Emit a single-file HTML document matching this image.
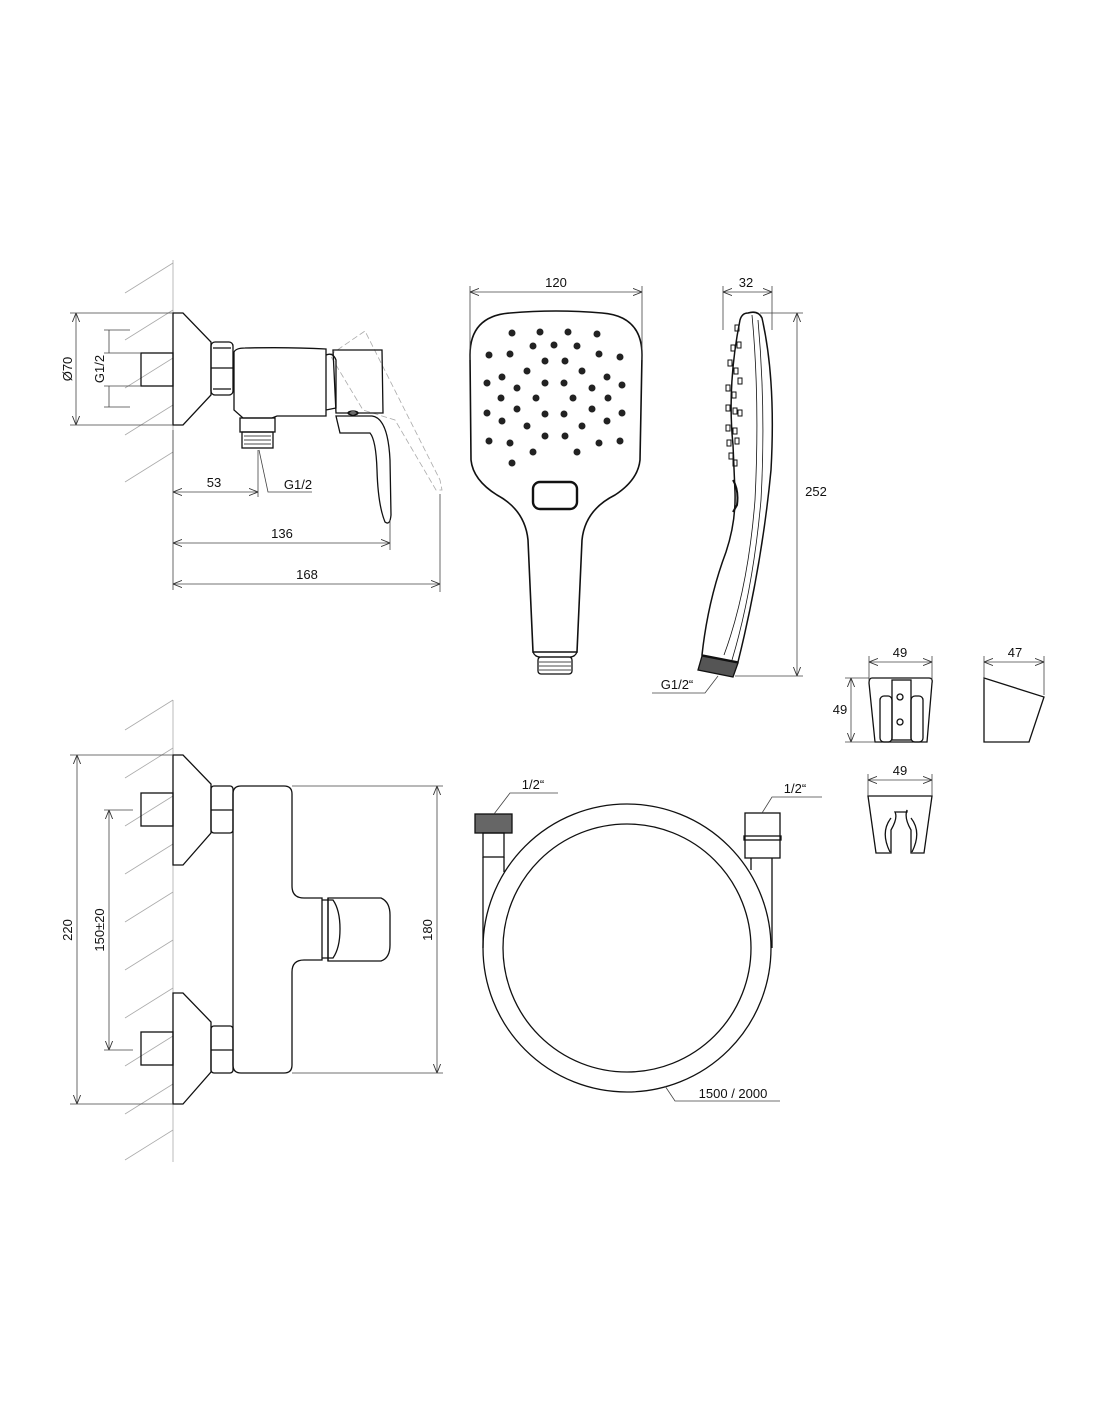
<!DOCTYPE html>
<html><head><meta charset="utf-8"><style>
html,body{margin:0;padding:0;background:#fff}
svg{display:block}
text{font-family:"Liberation Sans",sans-serif;font-size:13px;fill:#111}
</style></head><body>
<svg width="1100" height="1422" viewBox="0 0 1100 1422" xmlns="http://www.w3.org/2000/svg">
<defs>
<marker id="a" viewBox="0 0 10 10" refX="10" refY="5" markerWidth="9" markerHeight="9" orient="auto-start-reverse" markerUnits="userSpaceOnUse"><path d="M0,1 L10,5 L0,9" fill="none" stroke="#333" stroke-width="1"/></marker>
</defs>
<g fill="none" stroke="#aaa" stroke-width="0.8">
<!-- wall + hatch top -->
<line x1="173" y1="260" x2="173" y2="460"/>
<path d="M125,293 L173,263 M125,340 L173,310 M125,388 L173,358 M125,435 L173,405 M125,482 L173,452"/>
<line x1="173" y1="700" x2="173" y2="1162"/>
<path d="M125,730 L173,700 M125,778 L173,748 M125,826 L173,796 M125,874 L173,844 M125,922 L173,892 M125,970 L173,940 M125,1018 L173,988 M125,1066 L173,1036 M125,1114 L173,1084 M125,1160 L173,1130"/>
<!-- ghost handle -->
<path d="M330,355 L365,331 L440,480 L442,490 L436,490 L395,420 L363,410 Z" stroke-dasharray="6,3"/>
</g>
<g fill="none" stroke="#111" stroke-width="1.3">
<!-- top faucet -->
<path d="M173,313 H183 L211,342 V395 L183,425 H173 Z"/>
<rect x="141" y="353" width="32" height="33"/>
<rect x="211" y="342" width="22" height="53" rx="4"/>
<line x1="211" y1="368" x2="233" y2="368"/><line x1="213" y1="348" x2="231" y2="348"/><line x1="213" y1="389" x2="231" y2="389"/>
<path d="M234,352 Q236,348 245,348 Q290,347 326,349 V416 H277 L272,418 H243 L234,410 Z"/>
<path d="M326,355 Q333,352 336,360 V408 L326,410"/>
<rect x="240" y="418" width="35" height="14"/>
<rect x="242" y="432" width="31" height="16"/>
<path d="M244,436 H271 M244,440 H271 M244,444 H271" stroke-width="0.7"/>
<path d="M333,350 H382 L383,413 H336 Z"/>
<path d="M336,416 H372 Q388,418 390,460 L391,515 Q390,526 385,522 Q378,505 377,470 Q376,440 370,433 L340,433 Z"/>
<ellipse cx="353" cy="413" rx="5" ry="2"/>
<!-- bottom faucet -->
<path d="M173,755 H183 L211,784 V833 L183,865 H173 Z"/>
<rect x="141" y="793" width="32" height="33"/>
<rect x="211" y="786" width="22" height="47" rx="3"/>
<line x1="211" y1="810" x2="233" y2="810"/>
<path d="M173,993 H183 L211,1022 V1072 L183,1104 H173 Z"/>
<rect x="141" y="1032" width="32" height="33"/>
<rect x="211" y="1026" width="22" height="47" rx="3"/>
<line x1="211" y1="1050" x2="233" y2="1050"/>
<path d="M241,786 H284 Q292,786 292,794 V886 Q292,898 304,898 H322 V960 H304 Q292,960 292,972 V1065 Q292,1073 284,1073 H241 Q233,1073 233,1065 V794 Q233,786 241,786 Z"/>
<path d="M328,898 H381 Q390,902 390,915 V945 Q390,958 381,961 H328 Z"/>
<path d="M322,900 H333 Q340,910 340,929 Q340,948 333,958 H322"/>
<line x1="328" y1="898" x2="328" y2="961"/>
<!-- shower head front -->
<path d="M510,313 Q556,309 602,313 Q642,316 642,355 L640,460 Q638,480 615,495 Q585,510 582,540 L577,652 L533,652 L528,540 Q525,510 497,495 Q473,480 471,460 L470,355 Q470,316 510,313 Z" stroke-width="1.6"/>
<rect x="533" y="482" width="44" height="27" rx="7" stroke-width="2.4"/>
<path d="M533,652 Q535,657 540,657 H570 Q575,657 577,652"/>
<rect x="538" y="657" width="34" height="17" rx="3"/>
<path d="M539,662 H571 M539,666 H571 M539,670 H571" stroke-width="0.7"/>
<!-- side view -->
<path d="M748,313 Q758,310 762,318 Q776,380 771,470 Q762,565 738,662 L702,655 Q708,600 726,552 Q736,522 735,492 L733,445 Q727,385 740,320 Q742,313 748,313 Z" stroke-width="1.5"/>
<path d="M752,315 Q760,400 755,500 Q748,590 724,655 M758,320 Q766,410 761,500 Q753,590 732,660" stroke-width="0.8"/>
<path d="M733,480 Q739,490 737,505 L733,512" stroke-width="2"/>
<path d="M702,656 L738,663 L733,677 L698,670 Z" fill="#555"/>
<g stroke-width="1">
<rect x="735" y="325" width="4" height="6"/><rect x="731" y="345" width="4" height="6"/><rect x="737" y="342" width="4" height="6"/>
<rect x="728" y="360" width="4" height="6"/><rect x="734" y="368" width="4" height="6"/><rect x="738" y="378" width="4" height="6"/>
<rect x="726" y="385" width="4" height="6"/><rect x="732" y="392" width="4" height="6"/><rect x="726" y="405" width="4" height="6"/>
<rect x="733" y="408" width="4" height="6"/><rect x="738" y="410" width="4" height="6"/><rect x="726" y="425" width="4" height="6"/>
<rect x="733" y="428" width="4" height="6"/><rect x="727" y="440" width="4" height="6"/><rect x="735" y="438" width="4" height="6"/>
<rect x="729" y="453" width="4" height="6"/><rect x="733" y="460" width="4" height="6"/>
</g>
<!-- holders -->
<path d="M872,678 H929 Q933,678 932,683 L927,742 H875 L869,683 Q869,678 872,678 Z"/>
<rect x="880" y="696" width="12" height="46" rx="4"/><rect x="911" y="696" width="12" height="46" rx="4"/>
<rect x="892" y="680" width="19" height="60"/>
<circle cx="900" cy="697" r="3"/><circle cx="900" cy="722" r="3"/>
<path d="M984,678 L1044,697 L1029,742 H984 Z"/>
<path d="M868,796 H932 L924,853 H911 V830 Q904,818 907,810 V812 H895 V812 Q898,818 891,830 V853 H876 Z"/>
<path d="M891,818 Q880,832 890,852 M911,818 Q922,832 912,852"/>
<!-- hose -->
<circle cx="627" cy="948" r="144"/>
<circle cx="627" cy="948" r="124"/>
<rect x="475" y="814" width="37" height="19" fill="#666"/>
<rect x="483" y="833" width="21" height="24"/>
<path d="M483,857 V948 M504,857 V872"/>
<rect x="745" y="813" width="35" height="45"/>
<rect x="744" y="836" width="37" height="4"/>
<path d="M751,858 V870 M772,858 V948"/>
</g>
<!-- dots -->
<g fill="#222">
<circle cx="512" cy="333" r="3.5"/><circle cx="540" cy="332" r="3.5"/><circle cx="568" cy="332" r="3.5"/><circle cx="597" cy="334" r="3.5"/>
<circle cx="533" cy="346" r="3.5"/><circle cx="554" cy="345" r="3.5"/><circle cx="577" cy="346" r="3.5"/>
<circle cx="489" cy="355" r="3.5"/><circle cx="510" cy="354" r="3.5"/><circle cx="599" cy="354" r="3.5"/><circle cx="620" cy="357" r="3.5"/>
<circle cx="545" cy="361" r="3.5"/><circle cx="565" cy="361" r="3.5"/>
<circle cx="527" cy="371" r="3.5"/><circle cx="582" cy="371" r="3.5"/>
<circle cx="502" cy="377" r="3.5"/><circle cx="607" cy="377" r="3.5"/>
<circle cx="487" cy="383" r="3.5"/><circle cx="622" cy="385" r="3.5"/><circle cx="545" cy="383" r="3.5"/><circle cx="564" cy="383" r="3.5"/>
<circle cx="517" cy="388" r="3.5"/><circle cx="592" cy="388" r="3.5"/>
<circle cx="501" cy="398" r="3.5"/><circle cx="608" cy="398" r="3.5"/><circle cx="536" cy="398" r="3.5"/><circle cx="573" cy="398" r="3.5"/>
<circle cx="517" cy="409" r="3.5"/><circle cx="592" cy="409" r="3.5"/>
<circle cx="487" cy="413" r="3.5"/><circle cx="622" cy="413" r="3.5"/><circle cx="545" cy="414" r="3.5"/><circle cx="564" cy="414" r="3.5"/>
<circle cx="502" cy="421" r="3.5"/><circle cx="607" cy="421" r="3.5"/>
<circle cx="527" cy="426" r="3.5"/><circle cx="582" cy="426" r="3.5"/>
<circle cx="545" cy="436" r="3.5"/><circle cx="565" cy="436" r="3.5"/>
<circle cx="489" cy="441" r="3.5"/><circle cx="510" cy="443" r="3.5"/><circle cx="599" cy="443" r="3.5"/><circle cx="620" cy="441" r="3.5"/>
<circle cx="533" cy="452" r="3.5"/><circle cx="577" cy="452" r="3.5"/>
<circle cx="512" cy="463" r="3.5"/>
</g>
<!-- dimension lines -->
<g fill="none" stroke="#444" stroke-width="0.8">
<path d="M70,313 H173 M70,425 H173 M104,330 H130 M104,407 H130 M104,353 H141 M104,386 H141"/>
<line x1="76" y1="313" x2="76" y2="425" marker-start="url(#a)" marker-end="url(#a)"/>
<line x1="109" y1="330" x2="109" y2="353" /><line x1="109" y1="386" x2="109" y2="407"/>
<path d="M173,430 V590 M258,450 V497 M390,520 V550 M440,494 V592"/>
<line x1="173" y1="492" x2="258" y2="492" marker-start="url(#a)" marker-end="url(#a)"/>
<path d="M259,450 L268,492 H312"/>
<line x1="173" y1="543" x2="390" y2="543" marker-start="url(#a)" marker-end="url(#a)"/>
<line x1="173" y1="584" x2="440" y2="584" marker-start="url(#a)" marker-end="url(#a)"/>
<path d="M70,755 H173 M70,1104 H173 M104,810 H133 M104,1050 H133 M292,786 H443 M292,1073 H443"/>
<line x1="77" y1="755" x2="77" y2="1104" marker-start="url(#a)" marker-end="url(#a)"/>
<line x1="109" y1="810" x2="109" y2="1050" marker-start="url(#a)" marker-end="url(#a)"/>
<line x1="437" y1="786" x2="437" y2="1073" marker-start="url(#a)" marker-end="url(#a)"/>
<path d="M470,286 V360 M642,286 V360 M723,286 V330 M772,286 V330 M760,313 H803 M735,676 H803"/>
<line x1="470" y1="292" x2="642" y2="292" marker-start="url(#a)" marker-end="url(#a)"/>
<line x1="723" y1="292" x2="772" y2="292" marker-start="url(#a)" marker-end="url(#a)"/>
<line x1="797" y1="313" x2="797" y2="676" marker-start="url(#a)" marker-end="url(#a)"/>
<path d="M652,693 H705 L718,676"/>
<path d="M869,656 V680 M932,656 V680 M984,656 V680 M1044,656 V695 M845,678 H869 M845,742 H875 M868,774 V796 M932,774 V796"/>
<line x1="869" y1="662" x2="932" y2="662" marker-start="url(#a)" marker-end="url(#a)"/>
<line x1="984" y1="662" x2="1044" y2="662" marker-start="url(#a)" marker-end="url(#a)"/>
<line x1="851" y1="678" x2="851" y2="742" marker-start="url(#a)" marker-end="url(#a)"/>
<line x1="868" y1="780" x2="932" y2="780" marker-start="url(#a)" marker-end="url(#a)"/>
<path d="M494,814 L510,793 H558 M762,813 L772,797 H822 M665,1086 L675,1101 H780"/>
</g>
<!-- labels -->
<text x="214" y="487" text-anchor="middle">53</text>
<text x="298" y="489" text-anchor="middle">G1/2</text>
<text x="282" y="538" text-anchor="middle">136</text>
<text x="307" y="579" text-anchor="middle">168</text>
<text transform="translate(72,369) rotate(-90)" text-anchor="middle">Ø70</text>
<text transform="translate(104,369) rotate(-90)" text-anchor="middle">G1/2</text>
<text transform="translate(72,930) rotate(-90)" text-anchor="middle">220</text>
<text transform="translate(104,930) rotate(-90)" text-anchor="middle">150±20</text>
<text transform="translate(432,930) rotate(-90)" text-anchor="middle">180</text>
<text x="556" y="287" text-anchor="middle">120</text>
<text x="746" y="287" text-anchor="middle">32</text>
<text x="816" y="496" text-anchor="middle">252</text>
<text x="677" y="689" text-anchor="middle">G1/2“</text>
<text x="900" y="657" text-anchor="middle">49</text>
<text x="1015" y="657" text-anchor="middle">47</text>
<text x="840" y="714" text-anchor="middle">49</text>
<text x="900" y="775" text-anchor="middle">49</text>
<text x="533" y="789" text-anchor="middle">1/2“</text>
<text x="795" y="793" text-anchor="middle">1/2“</text>
<text x="733" y="1098" text-anchor="middle">1500 / 2000</text>
</svg>
</body></html>
